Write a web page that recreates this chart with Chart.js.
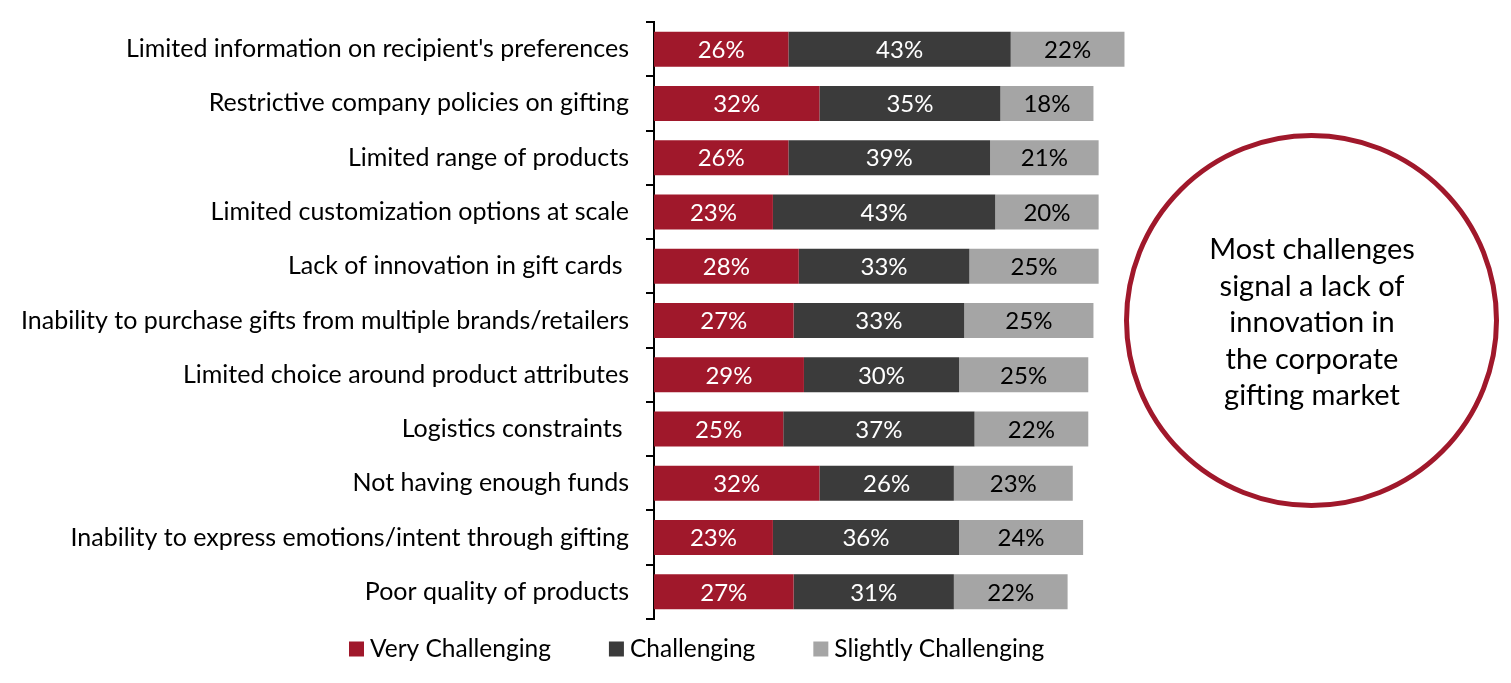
<!DOCTYPE html>
<html><head><meta charset="utf-8">
<script src="https://cdn.jsdelivr.net/npm/chart.js@4"></script>
<style>html,body{margin:0;padding:0;background:#fff;} #wrap{position:relative;width:1511px;height:683px;}</style>
</head><body><div id="wrap"><canvas id="c" width="1511" height="683"></canvas></div>
<script>
const categories = [
  "Limited information on recipient's preferences",
  "Restrictive company policies on gifting",
  "Limited range of products",
  "Limited customization options at scale",
  "Lack of innovation in gift cards ",
  "Inability to purchase gifts from multiple brands/retailers",
  "Limited choice around product attributes",
  "Logistics constraints ",
  "Not having enough funds",
  "Inability to express emotions/intent through gifting",
  "Poor quality of products"
];
const veryChallenging = [26, 32, 26, 23, 28, 27, 29, 25, 32, 23, 27];
const challenging = [43, 35, 39, 43, 33, 33, 30, 37, 26, 36, 31];
const slightlyChallenging = [22, 18, 21, 20, 25, 25, 25, 22, 23, 24, 22];
const seriesNames = ["Very Challenging", "Challenging", "Slightly Challenging"];
const calloutLines = ["Most challenges", "signal a lack of", "innovation in", "the corporate", "gifting market"];

const COLORS = ['#A0182B', '#3B3B3B', '#A5A5A5'];
const LABEL_COLORS = ['#FFFFFF', '#FFFFFF', '#000000'];
const FONT = 'Lato, "Open Sans", sans-serif';

const valueLabels = {
  id: 'valueLabels',
  afterDatasetsDraw(chart) {
    const ctx = chart.ctx;
    ctx.save();
    ctx.font = '24px ' + FONT;
    ctx.textAlign = 'center';
    ctx.textBaseline = 'middle';
    chart.data.datasets.forEach((ds, i) => {
      const meta = chart.getDatasetMeta(i);
      meta.data.forEach((bar, j) => {
        const p = bar.getProps(['x', 'y', 'base'], true);
        ctx.fillStyle = LABEL_COLORS[i];
        ctx.fillText(ds.data[j] + '%', (p.x + p.base) / 2, p.y + 1);
      });
    });
    ctx.restore();
  }
};

const customLegend = {
  id: 'customLegend',
  afterDraw(chart) {
    const ctx = chart.ctx;
    ctx.save();
    ctx.font = '24.5px ' + FONT;
    ctx.textBaseline = 'middle';
    ctx.textAlign = 'left';
    let x = 349;
    const y = 649;
    chart.data.datasets.forEach((ds, i) => {
      ctx.fillStyle = ds.backgroundColor;
      ctx.fillRect(x, y - 7.5, 15, 15);
      ctx.fillStyle = '#000';
      ctx.fillText(ds.label, x + 21, y);
      x += 21 + ctx.measureText(ds.label).width + 58;
    });
    ctx.restore();
  }
};

const callout = {
  id: 'callout',
  afterDraw(chart) {
    const ctx = chart.ctx;
    ctx.save();
    ctx.beginPath();
    ctx.arc(1311.5, 320.5, 185, 0, Math.PI * 2);
    ctx.lineWidth = 5;
    ctx.strokeStyle = '#A0182B';
    ctx.stroke();
    ctx.fillStyle = '#000';
    ctx.font = '29px ' + FONT;
    ctx.textAlign = 'center';
    ctx.textBaseline = 'middle';
    calloutLines.forEach((t, k) => ctx.fillText(t, 1312, 250 + k * 36.5));
    ctx.restore();
  }
};

function draw() {
  new Chart(document.getElementById('c'), {
    type: 'bar',
    data: {
      labels: categories,
      datasets: [
        { label: seriesNames[0], data: veryChallenging, backgroundColor: COLORS[0] },
        { label: seriesNames[1], data: challenging, backgroundColor: COLORS[1] },
        { label: seriesNames[2], data: slightlyChallenging, backgroundColor: COLORS[2] }
      ]
    },
    options: {
      indexAxis: 'y',
      responsive: false,
      animation: false,
      devicePixelRatio: 1,
      datasets: { bar: { categoryPercentage: 1, barPercentage: 0.645, borderWidth: 0 } },
      layout: { padding: { left: 0, right: 340, top: 22, bottom: 64 } },
      plugins: { legend: { display: false }, tooltip: { enabled: false } },
      scales: {
        x: { stacked: true, display: false, min: 0, max: 100 },
        y: {
          stacked: true,
          grid: { display: true, drawOnChartArea: false, drawTicks: true, tickLength: 8, color: '#000', lineWidth: 2, offset: true },
          border: { display: true, color: '#000', width: 2 },
          ticks: { color: '#000', font: { family: FONT, size: 25 }, padding: 17, autoSkip: false },
          afterFit(s) { s.width = 654; s.paddingTop = 0; s.paddingBottom = 0; }
        }
      }
    },
    plugins: [valueLabels, customLegend, callout]
  });
}
document.fonts.load('22px Lato').then(draw, draw);
</script>
</body></html>
